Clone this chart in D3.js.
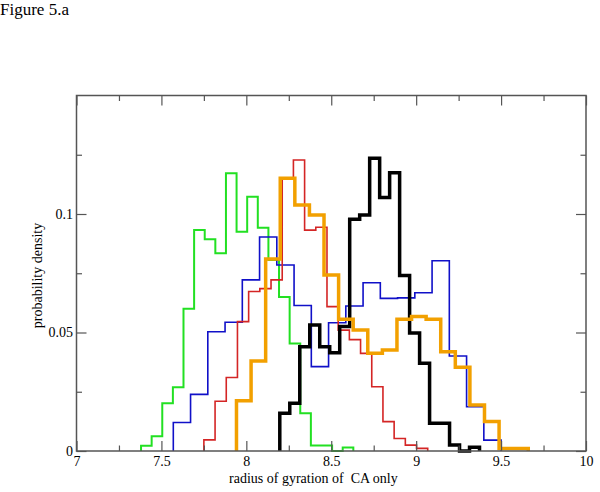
<!DOCTYPE html>
<html>
<head>
<meta charset="utf-8">
<script src="https://cdn.jsdelivr.net/npm/d3@7"></script>
<style>
  body { margin: 0; background: #fff; }
  text { font-family: "Liberation Serif", "Times New Roman", serif; fill: #000; }
</style>
</head>
<body>
<div id="wrapper"></div>
<script>
// 1. Data: each series is a 20-bin (blue 19) histogram over its own range
const greenRange = [7.38, 8.63]
const greenValues = [0.0022, 0.0062, 0.0201, 0.0269, 0.0600, 0.0932, 0.0893, 0.0834, 0.1172, 0.0925,
                     0.1073, 0.0942, 0.0806, 0.0650, 0.0454, 0.0159, 0.0023, 0.0023, 0, 0.0015]

const blueRange = [7.57, 9.50]
const blueValues = [0.0120, 0.0239, 0.0503, 0.0543, 0.0722, 0.0903, 0.0785, 0.0614, 0.0356, 0.0541,
                    0.0612, 0.0710, 0.0644, 0.0646, 0.0668, 0.0803, 0.0401, 0.0187, 0.0046]

const redRange = [7.75, 9.068]
const redValues = [0.0047, 0.0210, 0.0310, 0.0546, 0.0673, 0.0685, 0.0722, 0.1150, 0.1228, 0.0932,
                   0.0944, 0.0609, 0.0510, 0.0470, 0.0412, 0.0271, 0.0124, 0.0053, 0.0025, 0.0011]

const blackRange = [8.197, 9.373]
const blackValues = [0.0159, 0.0201, 0.0440, 0.0532, 0.0440, 0.0415, 0.0525, 0.0978, 0.0996, 0.1235,
                     0.1070, 0.1174, 0.0741, 0.0498, 0.0370, 0.0117, 0.0117, 0.0025, 0, 0.0016]

const orangeRange = [7.942, 9.66]
const orangeValues = [0.0212, 0.0380, 0.0810, 0.1151, 0.1038, 0.0996, 0.0743, 0.0556, 0.0511, 0.0412,
                      0.0426, 0.0556, 0.0567, 0.0556, 0.0419, 0.0353, 0.0194, 0.0124, 0.0011, 0.0011]

const xMajorTicks = [7, 7.5, 8, 8.5, 9, 9.5, 10]
const xMinorTicks = [7.25, 7.75, 8.25, 8.75, 9.25, 9.75]
const yMajorTicks = [0, 0.05, 0.1]
const yMinorTicks = [0.025, 0.075, 0.125]

const series = [
    { range: greenRange, values: greenValues, color: "#22e022", width: 2 },
    { range: blueRange, values: blueValues, color: "#1010c8", width: 1.6 },
    { range: redRange, values: redValues, color: "#d42525", width: 1.6 },
    { range: blackRange, values: blackValues, color: "#000000", width: 3.5 },
    { range: orangeRange, values: orangeValues, color: "#f2a000", width: 3.5 },
]

// 2. Dimensions
let dimensions = {
    width: 600,
    height: 492,
    margin: { top: 95.5, right: 14, bottom: 41, left: 76.5 },
}
dimensions.boundedWidth = dimensions.width - dimensions.margin.left - dimensions.margin.right
dimensions.boundedHeight = dimensions.height - dimensions.margin.top - dimensions.margin.bottom

// 3. Canvas
const wrapper = d3.select("#wrapper")
    .append("svg")
    .attr("width", dimensions.width)
    .attr("height", dimensions.height)

wrapper.append("text")
    .attr("x", 0)
    .attr("y", 15)
    .style("font-size", "17px")
    .text("Figure 5.a")

const bounds = wrapper.append("g")
    .attr("transform", `translate(${dimensions.margin.left},${dimensions.margin.top})`)

// 4. Scales
const xScale = d3.scaleLinear().domain([7, 10]).range([0, dimensions.boundedWidth])
const yScale = d3.scaleLinear().domain([0, 0.15]).range([dimensions.boundedHeight, 0])

// 5. Histogram outlines
const line = d3.line().x(d => xScale(d[0])).y(d => yScale(d[1]))

series.forEach(s => {
    const n = s.values.length
    const step = (s.range[1] - s.range[0]) / n
    const pts = [[s.range[0], 0]]
    s.values.forEach((v, i) => {
        pts.push([s.range[0] + i * step, v])
        pts.push([s.range[0] + (i + 1) * step, v])
    })
    pts.push([s.range[1], 0])
    bounds.append("path")
        .attr("d", line(pts))
        .attr("fill", "none")
        .attr("stroke", s.color)
        .attr("stroke-width", s.width)
        .attr("stroke-linejoin", "miter")
})

// 6. Frame and axes (ticks point inward on all four sides)
const tickColor = "#555"
const major = 10, minor = 5.5

function styleAxis(g) {
    g.select(".domain").remove()
    g.selectAll("line").attr("stroke", tickColor).attr("stroke-width", 1.2)
    g.selectAll("text").style("font-size", "14px").style("font-family", "'Liberation Serif', serif")
}

bounds.append("g")
    .attr("transform", `translate(0,${dimensions.boundedHeight})`)
    .call(d3.axisBottom(xScale).tickValues(xMajorTicks).tickSize(-major).tickPadding(5).tickFormat(d3.format("")))
    .call(styleAxis)
bounds.append("g")
    .attr("transform", `translate(0,${dimensions.boundedHeight})`)
    .call(d3.axisBottom(xScale).tickValues(xMinorTicks).tickSize(-minor).tickFormat(""))
    .call(styleAxis)
bounds.append("g")
    .call(d3.axisTop(xScale).tickValues(xMajorTicks).tickSize(-major).tickFormat(""))
    .call(styleAxis)
bounds.append("g")
    .call(d3.axisTop(xScale).tickValues(xMinorTicks).tickSize(-minor).tickFormat(""))
    .call(styleAxis)

bounds.append("g")
    .call(d3.axisLeft(yScale).tickValues(yMajorTicks).tickSize(-major).tickPadding(3.5).tickFormat(d3.format("")))
    .call(styleAxis)
bounds.append("g")
    .call(d3.axisLeft(yScale).tickValues(yMinorTicks).tickSize(-minor).tickFormat(""))
    .call(styleAxis)
bounds.append("g")
    .attr("transform", `translate(${dimensions.boundedWidth},0)`)
    .call(d3.axisRight(yScale).tickValues(yMajorTicks).tickSize(-major).tickFormat(""))
    .call(styleAxis)
bounds.append("g")
    .attr("transform", `translate(${dimensions.boundedWidth},0)`)
    .call(d3.axisRight(yScale).tickValues(yMinorTicks).tickSize(-minor).tickFormat(""))
    .call(styleAxis)

bounds.append("rect")
    .attr("width", dimensions.boundedWidth)
    .attr("height", dimensions.boundedHeight)
    .attr("fill", "none")
    .attr("stroke", tickColor)
    .attr("stroke-width", 1.5)

// axis titles
wrapper.append("text")
    .attr("x", 229)
    .attr("y", 483)
    .style("font-size", "14px")
    .style("white-space", "pre")
    .text("radius of gyration of  CA only")

wrapper.append("text")
    .attr("transform", "translate(42,275.5) rotate(-90)")
    .attr("text-anchor", "middle")
    .style("font-size", "14px")
    .text("probability density")
</script>
</body>
</html>
